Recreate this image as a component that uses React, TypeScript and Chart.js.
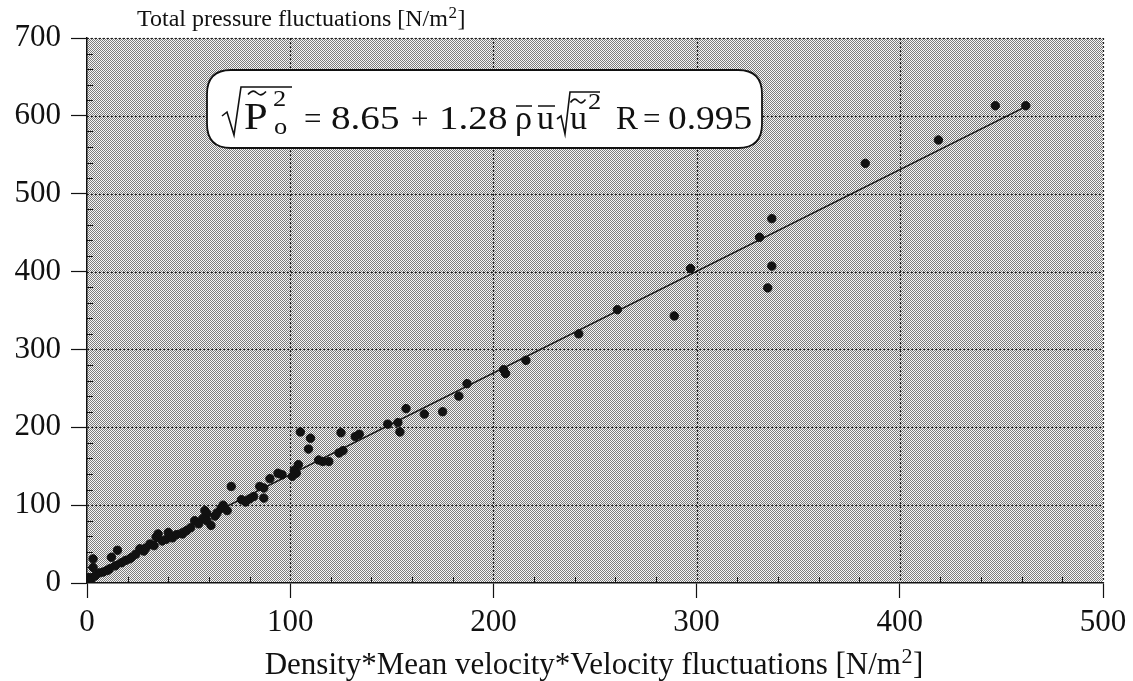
import React, { useEffect, useRef } from 'react';
import { Chart, registerables } from 'chart.js';

Chart.register(...registerables);

const SERIF = '"Liberation Serif", "Times New Roman", serif';

// Axis ranges and ticks
const X_TICKS = [0, 100, 200, 300, 400, 500];
const Y_TICKS = [0, 100, 200, 300, 400, 500, 600, 700];
const X_MINOR_STEP = 20;
const Y_MINOR_STEP = 20;

// Measured points: density*mean velocity*velocity fluctuations (x) vs total pressure fluctuations (y)
const densityVelocityFluct = [
  462, 447, 419, 383, 337, 331, 337, 335, 297, 289,
  261, 242, 216, 205, 206, 187, 183, 157, 166, 175,
  154, 153, 148, 134, 132, 125, 126, 124, 119, 116,
  114, 105, 110, 109, 104, 102, 103, 101, 94, 96,
  90, 87, 85, 71, 82, 87, 76, 67, 66, 69,
  58, 59, 57, 61, 59, 53, 47, 40, 35, 34,
  37, 31, 26, 22, 15, 12, 17, 14, 11, 3,
  3, 6, 1, 0, 2, 4, 8, 10, 19, 21,
  24, 28, 29, 33, 39, 42, 44, 49, 51, 55,
  63, 64, 78, 80,
];
const totalPressureFluct = [
  613, 613, 569, 539, 468, 444, 407, 379, 404, 343,
  351, 320, 286, 274, 269, 256, 240, 224, 217, 220,
  194, 206, 204, 191, 188, 193, 170, 167, 156, 156,
  158, 194, 186, 172, 152, 145, 141, 137, 141, 139,
  134, 122, 124, 124, 111, 109, 107, 100, 96, 93,
  93, 89, 83, 74, 80, 80, 63, 65, 63, 59,
  54, 50, 44, 33, 42, 33, 26, 22, 18, 31,
  20, 13, 7, 3, 5, 9, 14, 16, 29, 31,
  37, 41, 45, 48, 56, 58, 62, 67, 71, 76,
  86, 90, 104, 108,
];

// Regression line end points
const fitX = [0, 462];
const fitY = [8.65, 612];

// Text
const Y_TITLE = 'Total pressure fluctuations [N/m';
const X_TITLE = 'Density*Mean velocity*Velocity fluctuations [N/m';
const UNIT_SUP = '2';
const UNIT_END = ']';

function makePattern(ctx: CanvasRenderingContext2D) {
  const p = document.createElement('canvas');
  p.width = 2;
  p.height = 2;
  const c = p.getContext('2d')!;
  c.fillStyle = '#f6f6f6';
  c.fillRect(0, 0, 2, 2);
  c.fillStyle = '#7c7c7c';
  c.fillRect(0, 0, 1, 1);
  c.fillRect(1, 1, 1, 1);
  return ctx.createPattern(p, 'repeat');
}

const backgroundPlugin = {
  id: 'stippleBackground',
  beforeDraw(chart: any) {
    const { ctx, chartArea } = chart;
    ctx.save();
    const pat = makePattern(ctx);
    ctx.fillStyle = pat || '#b8b8b8';
    ctx.fillRect(chartArea.left, chartArea.top, chartArea.right - chartArea.left, chartArea.bottom - chartArea.top);
    ctx.restore();
  },
  beforeDatasetsDraw(chart: any) {
    const { ctx, chartArea, scales } = chart;
    ctx.save();
    ctx.strokeStyle = '#1e1e1e';
    ctx.lineWidth = 1.2;
    ctx.setLineDash([2, 2]);
    X_TICKS.forEach((v) => {
      if (v === X_TICKS[0]) return;
      const px = Math.round(scales.x.getPixelForValue(v)) + 0.5;
      ctx.beginPath();
      ctx.moveTo(px, chartArea.top);
      ctx.lineTo(px, chartArea.bottom);
      ctx.stroke();
    });
    Y_TICKS.forEach((v) => {
      if (v === Y_TICKS[0]) return;
      const py = Math.round(scales.y.getPixelForValue(v)) + 0.5;
      ctx.beginPath();
      ctx.moveTo(chartArea.left, py);
      ctx.lineTo(chartArea.right, py);
      ctx.stroke();
    });
    ctx.setLineDash([]);
    // minor ticks, pointing inward
    ctx.strokeStyle = '#111';
    ctx.lineWidth = 1;
    for (let v = X_TICKS[0]; v <= X_TICKS[X_TICKS.length - 1]; v += X_MINOR_STEP) {
      if (X_TICKS.includes(v)) continue;
      const px = Math.round(scales.x.getPixelForValue(v)) + 0.5;
      ctx.beginPath();
      ctx.moveTo(px, chartArea.bottom);
      ctx.lineTo(px, chartArea.bottom - 6);
      ctx.stroke();
    }
    for (let v = Y_TICKS[0]; v <= Y_TICKS[Y_TICKS.length - 1]; v += Y_MINOR_STEP) {
      if (Y_TICKS.includes(v)) continue;
      const py = Math.round(scales.y.getPixelForValue(v)) + 0.5;
      ctx.beginPath();
      ctx.moveTo(chartArea.left, py);
      ctx.lineTo(chartArea.left + 6, py);
      ctx.stroke();
    }
    ctx.restore();
  },
};

function drawTitleWithSup(
  ctx: CanvasRenderingContext2D,
  text: string,
  x: number,
  baseline: number,
  size: number,
  align: 'left' | 'center'
) {
  ctx.font = `${size}px ${SERIF}`;
  const w1 = ctx.measureText(text).width;
  ctx.font = `${Math.round(size * 0.72)}px ${SERIF}`;
  const w2 = ctx.measureText(UNIT_SUP).width;
  ctx.font = `${size}px ${SERIF}`;
  const w3 = ctx.measureText(UNIT_END).width;
  const total = w1 + w2 + w3 + 1;
  let sx = align === 'center' ? x - total / 2 : x;
  ctx.textAlign = 'left';
  ctx.textBaseline = 'alphabetic';
  ctx.fillText(text, sx, baseline);
  sx += w1 + 0.5;
  ctx.font = `${Math.round(size * 0.72)}px ${SERIF}`;
  ctx.fillText(UNIT_SUP, sx, baseline - size * 0.34);
  sx += w2 + 0.5;
  ctx.font = `${size}px ${SERIF}`;
  ctx.fillText(UNIT_END, sx, baseline);
}

function roundRect(ctx: CanvasRenderingContext2D, x: number, y: number, w: number, h: number, r: number) {
  ctx.beginPath();
  ctx.moveTo(x + r, y);
  ctx.lineTo(x + w - r, y);
  ctx.quadraticCurveTo(x + w, y, x + w, y + r);
  ctx.lineTo(x + w, y + h - r);
  ctx.quadraticCurveTo(x + w, y + h, x + w - r, y + h);
  ctx.lineTo(x + r, y + h);
  ctx.quadraticCurveTo(x, y + h, x, y + h - r);
  ctx.lineTo(x, y + r);
  ctx.quadraticCurveTo(x, y, x + r, y);
  ctx.closePath();
}

function tilde(ctx: CanvasRenderingContext2D, cx: number, cy: number, w: number) {
  ctx.beginPath();
  ctx.moveTo(cx - w / 2, cy + 1.5);
  ctx.bezierCurveTo(cx - w / 4, cy - 3.5, cx - w / 8, cy - 2, cx, cy);
  ctx.bezierCurveTo(cx + w / 8, cy + 2, cx + w / 4, cy + 3.5, cx + w / 2, cy - 1.5);
  ctx.stroke();
}

function drawEquation(ctx: CanvasRenderingContext2D) {
  ctx.save();
  ctx.fillStyle = '#ffffff';
  ctx.strokeStyle = '#111';
  ctx.lineWidth = 1.8;
  roundRect(ctx, 207, 70, 555, 78, 24);
  ctx.fill();
  ctx.stroke();

  const base = 129;
  const tok = (t: string, x: number, size: number, b: number = base, sx: number = 1.1) => {
    ctx.save();
    ctx.font = `${size}px ${SERIF}`;
    ctx.textAlign = 'left';
    ctx.textBaseline = 'alphabetic';
    ctx.translate(x, b);
    ctx.scale(sx, 1);
    ctx.fillText(t, 0, 0);
    ctx.restore();
  };
  ctx.fillStyle = '#111';
  ctx.strokeStyle = '#111';
  ctx.lineWidth = 1.6;
  ctx.lineJoin = 'miter';

  // first radical over P~o^2
  ctx.beginPath();
  ctx.moveTo(222, 116);
  ctx.lineTo(227, 112);
  ctx.lineTo(234, 135);
  ctx.lineTo(241, 87);
  ctx.lineTo(292, 87);
  ctx.stroke();
  tok('P', 244, 37, base, 1.15);
  tilde(ctx, 257, 93, 18);
  tok('2', 273, 24, 106);
  tok('o', 274, 24, 134);

  tok('=', 304, 31, base, 1.0);
  tok('8.65', 331, 34, base, 1.15);
  tok('+', 411, 31, base, 1.0);
  tok('1.28', 439, 34, base, 1.15);
  tok('\u03c1', 515, 34, base, 1.0);
  tok('u', 537, 34, base, 1.0);
  // overbars
  ctx.beginPath();
  ctx.moveTo(516, 106);
  ctx.lineTo(532, 106);
  ctx.moveTo(538, 106);
  ctx.lineTo(555, 106);
  ctx.stroke();
  // second radical over u~^2
  ctx.beginPath();
  ctx.moveTo(557, 119);
  ctx.lineTo(561, 116);
  ctx.lineTo(565, 134);
  ctx.lineTo(570, 92);
  ctx.lineTo(600, 92);
  ctx.stroke();
  tok('u', 570, 34, base, 1.0);
  tilde(ctx, 578, 101, 15);
  tok('2', 588, 24, 109);

  tok('R', 616, 33, base, 1.0);
  tok('=', 643, 31, base, 1.0);
  tok('0.995', 668, 34, base, 1.1);
  ctx.restore();
}

const overlayPlugin = {
  id: 'overlay',
  afterDraw(chart: any) {
    const { ctx } = chart;
    ctx.save();
    ctx.fillStyle = '#111';
    drawTitleWithSup(ctx, Y_TITLE, 137, 26, 24, 'left');
    drawTitleWithSup(ctx, X_TITLE, 594, 674, 31, 'center');
    drawEquation(ctx);
    ctx.restore();
  },
};

export default function App() {
  const ref = useRef<HTMLCanvasElement | null>(null);
  useEffect(() => {
    if (!ref.current) return;
    const points = densityVelocityFluct.map((x, i) => ({ x, y: totalPressureFluct[i] }));
    const fit = fitX.map((x, i) => ({ x, y: fitY[i] }));
    const tickFont = { family: SERIF, size: 31 };
    const chart = new Chart(ref.current, {
      type: 'scatter',
      data: {
        datasets: [
          {
            label: 'Regression',
            data: fit,
            showLine: true,
            borderColor: '#111',
            borderWidth: 1.4,
            pointRadius: 0,
            order: 2,
          } as any,
          {
            label: 'Measurements',
            data: points,
            pointRadius: 4.2,
            backgroundColor: '#111',
            borderColor: '#111',
            borderWidth: 1,
            pointBackgroundColor: '#111',
            pointBorderColor: '#111',
            pointBorderWidth: 1,
            order: 1,
          } as any,
        ],
      },
      options: {
        animation: false,
        responsive: true,
        maintainAspectRatio: false,
        layout: { padding: { top: 38, right: 30, left: 0, bottom: 0 } },
        plugins: {
          legend: { display: false },
          tooltip: { enabled: false },
          title: { display: false },
        },
        scales: {
          x: {
            type: 'linear',
            min: X_TICKS[0],
            max: X_TICKS[X_TICKS.length - 1],
            afterBuildTicks: (s: any) => {
              s.ticks = X_TICKS.map((v) => ({ value: v }));
            },
            afterFit: (s: any) => {
              s.height = 98;
            },
            ticks: { font: tickFont, color: '#111', padding: 6, maxRotation: 0, autoSkip: false },
            grid: {
              drawOnChartArea: false,
              drawTicks: true,
              tickLength: 15,
              tickColor: '#111',
              tickWidth: 1.2,
            },
            border: { display: true, color: '#111', width: 1.5 },
          },
          y: {
            type: 'linear',
            min: Y_TICKS[0],
            max: Y_TICKS[Y_TICKS.length - 1],
            afterBuildTicks: (s: any) => {
              s.ticks = Y_TICKS.map((v) => ({ value: v }));
            },
            afterFit: (s: any) => {
              s.width = 87;
            },
            ticks: { font: tickFont, color: '#111', padding: 10, autoSkip: false },
            grid: {
              drawOnChartArea: false,
              drawTicks: true,
              tickLength: 16,
              tickColor: '#111',
              tickWidth: 1.2,
            },
            border: { display: true, color: '#111', width: 1.5 },
          },
        },
      },
      plugins: [backgroundPlugin, overlayPlugin],
    });
    return () => chart.destroy();
  }, []);

  return (
    <div style={{ position: 'fixed', left: 0, top: 0, width: 1133, height: 681, background: '#fff' }}>
      <canvas ref={ref} />
    </div>
  );
}
